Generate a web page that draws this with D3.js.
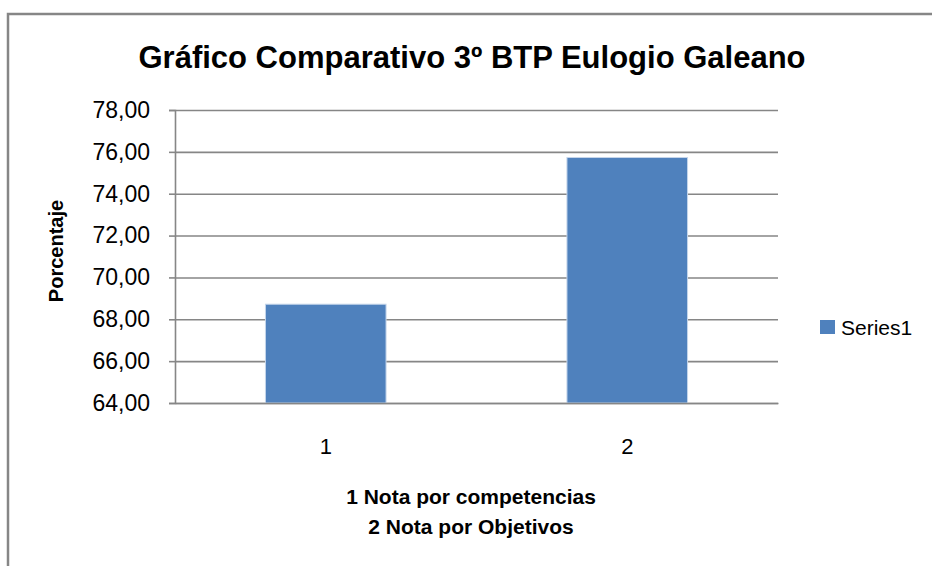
<!DOCTYPE html>
<html>
<head>
<meta charset="utf-8">
<script src="https://cdn.jsdelivr.net/npm/d3@7"></script>
<style>
  body { margin: 0; background: #fff; }
  text { font-family: "Liberation Sans", Arial, sans-serif; fill: #000; }
</style>
</head>
<body>
<script>
// chart data
let categories = ["1", "2"];
let values = [68.72, 75.73];
let yTicks = [64, 66, 68, 70, 72, 74, 76, 78];
let seriesName = "Series1";
let title = "Gráfico Comparativo 3º BTP Eulogio Galeano";
let yTitle = "Porcentaje";
let xTitle = ["1 Nota por competencias", "2 Nota por Objetivos"];

let width = 932, height = 566;
let margin = { top: 110, right: 154, bottom: 163, left: 175 };
let grey = "#868686";
let barColor = "#4F81BD";

let svg = d3.select("body")
  .append("svg")
    .attr("width", width)
    .attr("height", height);

// outer chart frame
svg.append("rect")
  .attr("x", 8).attr("y", 14)
  .attr("width", width).attr("height", height)
  .attr("fill", "none").attr("stroke", grey).attr("stroke-width", 2.5);

let x = d3.scaleBand()
  .domain(categories)
  .range([margin.left, width - margin.right])
  .paddingInner(0.6).paddingOuter(0.3);

let y = d3.scaleLinear()
  .domain([64, 78])
  .range([height - margin.bottom, margin.top]);

let fmt = d => d3.format(".2f")(d).replace(".", ",");

// gridlines
svg.append("g")
  .attr("transform", `translate(${margin.left},0)`)
  .call(d3.axisLeft(y).tickValues(yTicks).tickSize(-(width - margin.right - margin.left)).tickFormat(""))
  .call(g => g.select(".domain").remove())
  .call(g => g.selectAll("line").attr("stroke", grey).attr("stroke-width", 1.6));

// bars
svg.selectAll("rect.bar")
  .data(values)
  .join("rect")
    .attr("class", "bar")
    .attr("x", (d, i) => x(categories[i]))
    .attr("y", d => y(d))
    .attr("width", x.bandwidth())
    .attr("height", d => y(64) - y(d))
    .attr("fill", barColor)
    .attr("stroke", "#c5d5ea")
    .attr("stroke-width", 1);

// y axis
svg.append("g")
  .attr("transform", `translate(${margin.left},0)`)
  .call(d3.axisLeft(y).tickValues(yTicks).tickSize(6).tickPadding(19).tickFormat(fmt))
  .call(g => g.select(".domain").attr("stroke", grey).attr("stroke-width", 1.6))
  .call(g => g.selectAll(".tick line").attr("stroke", grey).attr("stroke-width", 1.6))
  .call(g => g.selectAll("text").attr("font-size", 23).attr("font-family", "Liberation Sans").attr("fill", "#000"));

// x axis
svg.append("g")
  .attr("transform", `translate(0,${height - margin.bottom})`)
  .call(d3.axisBottom(x).tickSize(0).tickPadding(35))
  .call(g => g.select(".domain").attr("stroke", grey).attr("stroke-width", 1.6))
  .call(g => g.selectAll("text").attr("font-size", 22).attr("font-family", "Liberation Sans").attr("fill", "#000"));

// title
svg.append("text")
  .attr("x", 472).attr("y", 68)
  .attr("text-anchor", "middle")
  .attr("font-size", 31).attr("font-weight", "bold")
  .text(title);

// y axis title
svg.append("text")
  .attr("transform", `translate(63,251) rotate(-90)`)
  .attr("text-anchor", "middle")
  .attr("font-size", 20).attr("font-weight", "bold")
  .text(yTitle);

// x axis title, two lines
svg.append("text")
  .attr("text-anchor", "middle")
  .attr("font-size", 21).attr("font-weight", "bold")
  .selectAll("tspan")
  .data(xTitle)
  .join("tspan")
    .attr("x", 471)
    .attr("y", (d, i) => 504 + i * 30)
    .text(d => d);

// legend
let legend = svg.append("g").attr("transform", "translate(820,320)");
legend.append("rect")
  .attr("width", 15).attr("height", 14)
  .attr("fill", barColor);
legend.append("text")
  .attr("x", 21).attr("y", 15)
  .attr("font-size", 21)
  .text(seriesName);
</script>
</body>
</html>
